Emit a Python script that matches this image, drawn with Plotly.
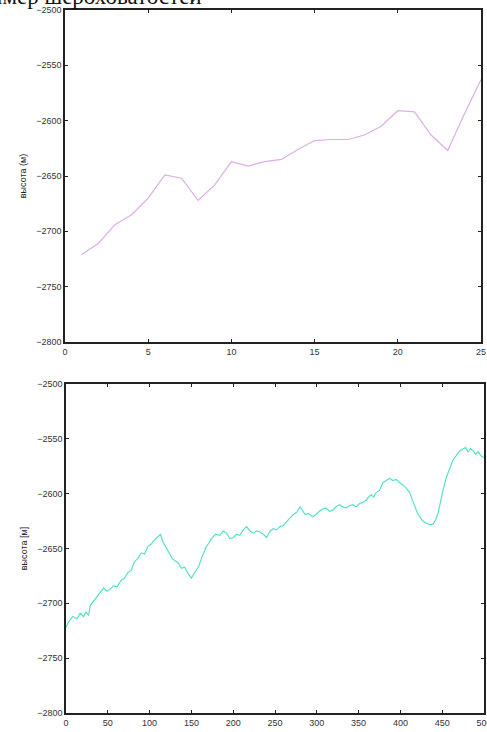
import plotly.graph_objects as go

# Coarse profile: 25 samples
coarse_x = list(range(1, 26))
coarse_h = [-2721, -2711, -2694, -2685, -2670, -2649, -2652, -2672, -2658, -2637,
            -2641, -2637, -2635, -2626, -2618, -2617, -2617, -2613, -2605, -2591,
            -2592, -2613, -2627, -2594, -2563]

# Fine profile: 0..500
fine_x = [0, 3, 8, 13, 17, 21, 24, 27, 29, 33, 37, 41, 45, 49, 53, 57, 61, 66, 70,
          74, 78, 82, 86, 90, 94, 98, 102, 106, 110, 113, 116, 120, 124, 127, 130,
          134, 138, 142, 146, 150, 153, 156, 159, 162, 165, 168, 171, 174, 179, 184,
          188, 192, 196, 200, 204, 208, 212, 216, 220, 224, 228, 232, 236, 240, 244,
          248, 252, 256, 260, 264, 268, 272, 276, 280, 283, 286, 290, 295, 299, 303,
          307, 311, 315, 319, 323, 327, 331, 335, 339, 343, 347, 351, 355, 359, 362,
          365, 368, 371, 375, 379, 383, 387, 391, 395, 399, 403, 407, 411, 414, 417,
          420, 423, 427, 431, 435, 439, 442, 445, 448, 451, 455, 459, 463, 467, 471,
          475, 478, 481, 484, 487, 490, 493, 497, 500]
fine_h = [-2722, -2717, -2712, -2714, -2709, -2712, -2708, -2711, -2702, -2698,
          -2694, -2691, -2686, -2689, -2687, -2684, -2685, -2679, -2677, -2672,
          -2670, -2662, -2659, -2654, -2655, -2648, -2646, -2642, -2639, -2637,
          -2644, -2650, -2655, -2659, -2661, -2663, -2668, -2667, -2673, -2677,
          -2673, -2670, -2666, -2659, -2654, -2648, -2645, -2641, -2637, -2638,
          -2634, -2636, -2641, -2640, -2637, -2638, -2633, -2630, -2634, -2636,
          -2634, -2635, -2637, -2640, -2634, -2632, -2633, -2630, -2629, -2625,
          -2622, -2619, -2617, -2612, -2615, -2619, -2618, -2621, -2619, -2616,
          -2614, -2613, -2616, -2615, -2612, -2610, -2612, -2613, -2611, -2610,
          -2612, -2609, -2608, -2606, -2603, -2601, -2603, -2599, -2597, -2590,
          -2588, -2586, -2588, -2587, -2590, -2592, -2595, -2599, -2605, -2612,
          -2617, -2621, -2625, -2627, -2628, -2628, -2624, -2618, -2606, -2597,
          -2585, -2577, -2569, -2565, -2561, -2559, -2558, -2562, -2559, -2561,
          -2564, -2562, -2566, -2567]

y_ticks = [-2800, -2750, -2700, -2650, -2600, -2550, -2500]
coarse_ticks = [0, 5, 10, 15, 20, 25]
fine_ticks = [0, 50, 100, 150, 200, 250, 300, 350, 400, 450, 500]

W, H = 487, 732
L, R, T, B = 65, 3, 10, 19
pw, ph = W - L - R, H - T - B


def px_x(p):
    return (p - L) / pw


def px_y(p):
    return (H - B - p) / ph


fig = go.Figure()
fig.add_trace(go.Scatter(x=coarse_x, y=coarse_h, mode="lines",
                         line=dict(color="#dcaee6", width=1.2),
                         xaxis="x", yaxis="y", showlegend=False))
fig.add_trace(go.Scatter(x=fine_x, y=fine_h, mode="lines",
                         line=dict(color="#55e2c8", width=1.2),
                         xaxis="x2", yaxis="y2", showlegend=False))

tick_font = dict(family="Liberation Sans, Arial, sans-serif", size=9, color="#333333")
axis_common = dict(showline=True, linecolor="#222222", linewidth=1.5, mirror="ticks",
                   ticks="inside", ticklen=3, tickcolor="#222222", showgrid=False,
                   zeroline=False, tickfont=tick_font, automargin=False,
                   ticklabeloverflow="allow")
title_font = dict(family="Liberation Sans, Arial, sans-serif", size=9, color="#222222")

fig.update_layout(
    width=W, height=H,
    margin=dict(l=L, r=R, t=T, b=B, autoexpand=False),
    paper_bgcolor="white", plot_bgcolor="white",
    xaxis=dict(domain=[0, px_x(481)], range=[0, 25], tickvals=coarse_ticks,
               anchor="y", **axis_common),
    yaxis=dict(domain=[px_y(342), 1], range=[-2800, -2500], tickvals=y_ticks,
               anchor="x", title=dict(text="высота (м)", font=title_font, standoff=8),
               **axis_common),
    xaxis2=dict(domain=[px_x(66), 1], range=[0, 500], tickvals=fine_ticks,
                anchor="y2", **axis_common),
    yaxis2=dict(domain=[0, px_y(384)], range=[-2800, -2500], tickvals=y_ticks,
                anchor="x2", title=dict(text="высота [м]", font=title_font, standoff=8),
                **axis_common),
    annotations=[dict(text="Пример шероховатостей", xref="paper", yref="paper",
                      x=px_x(-40), y=px_y(11), xanchor="left", yanchor="bottom",
                      showarrow=False,
                      font=dict(family="Liberation Serif, Times New Roman, serif",
                                size=23, color="#111111"))],
)

fig.write_html("out.html")
